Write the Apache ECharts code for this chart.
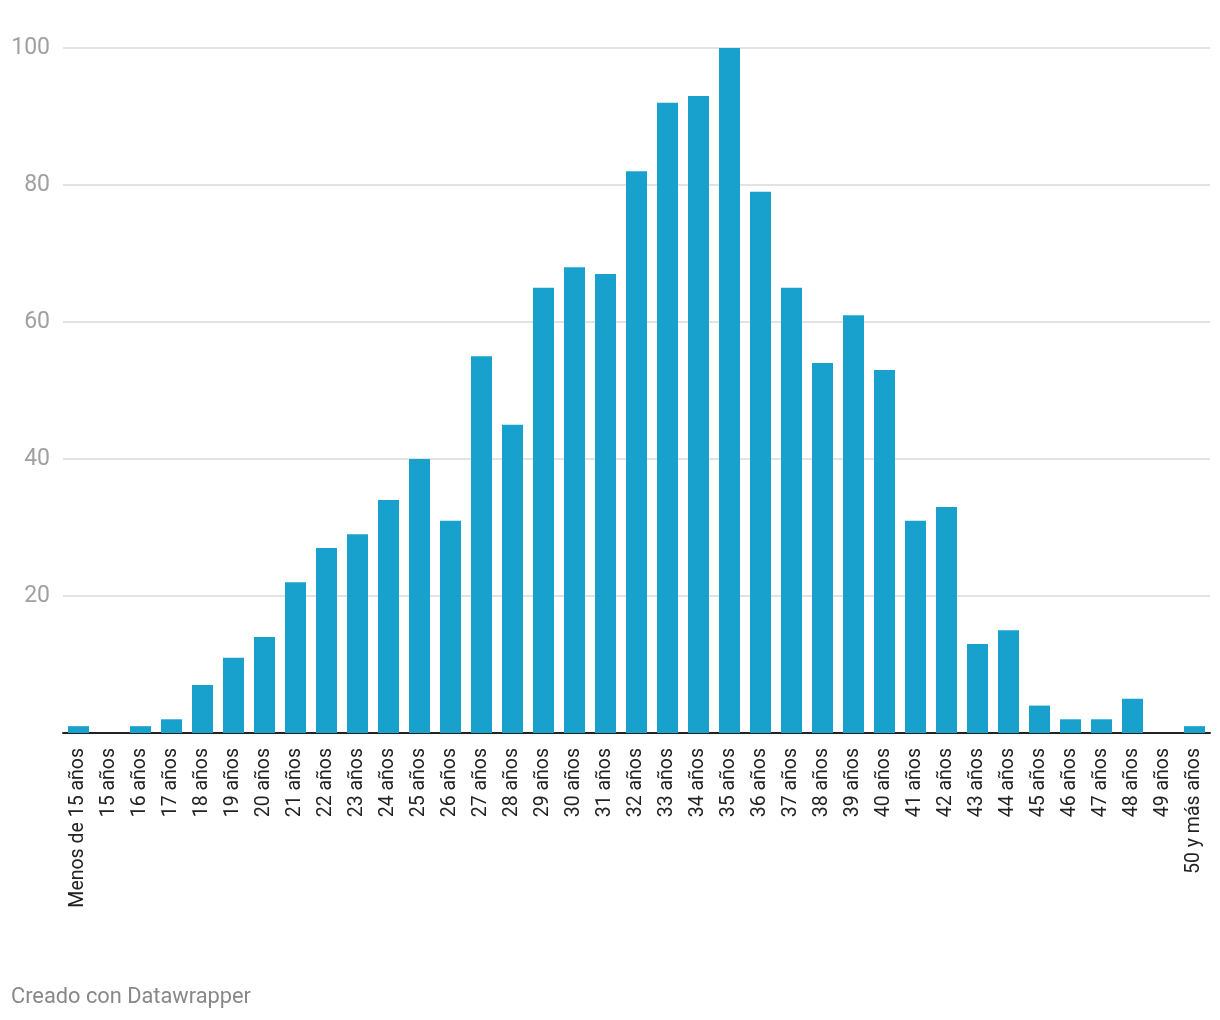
<!DOCTYPE html>
<html>
<head>
<meta charset="utf-8">
<script src="https://cdn.jsdelivr.net/npm/echarts@6/dist/echarts.min.js"></script>
<style>
html,body{margin:0;padding:0;background:#fff;}
#chart{width:1220px;height:1020px;}
</style>
</head>
<body>
<div id="chart"></div>
<script>
const categories = ["Menos de 15 años","15 años","16 años","17 años","18 años","19 años","20 años","21 años","22 años","23 años","24 años","25 años","26 años","27 años","28 años","29 años","30 años","31 años","32 años","33 años","34 años","35 años","36 años","37 años","38 años","39 años","40 años","41 años","42 años","43 años","44 años","45 años","46 años","47 años","48 años","49 años","50 y más años"];
const values = [1,0,1,2,7,11,14,22,27,29,34,40,31,55,45,65,68,67,82,92,93,100,79,65,54,61,53,31,33,13,15,4,2,2,5,0,1];
const yTicks = [0,20,40,60,80,100];
const credit = "Creado con Datawrapper";

const chart = echarts.init(document.getElementById('chart'), null, {renderer:'canvas'});
chart.setOption({
  animation:false,
  backgroundColor:'#ffffff',
  grid:{left:63,right:10,top:48,bottom:287,containLabel:false},
  graphic:[{
    type:'text', left:11, top:987,
    style:{text:credit, fill:'#888888', fontSize:21.8, fontFamily:'Roboto'}
  }],
  xAxis:{
    type:'category',
    data:categories,
    axisLine:{show:true,lineStyle:{color:'#222222',width:2}},
    axisTick:{show:false},
    axisLabel:{rotate:90,interval:0,color:'#222222',fontSize:19.5,margin:15,fontFamily:'Roboto'},
    splitLine:{show:false}
  },
  yAxis:{
    type:'value',
    min:yTicks[0], max:yTicks[yTicks.length-1], interval:20,
    axisLine:{show:false},
    axisTick:{show:false},
    axisLabel:{color:'#a0a0a0',fontSize:23,margin:13,fontFamily:'Roboto',
      formatter:function(v){return v===0?'':String(v);}},
    splitLine:{lineStyle:{color:'#e3e3e3',width:2}}
  },
  series:[{
    type:'bar',
    data:values,
    barWidth:21,
    itemStyle:{color:'#18a1cd'}
  }]
});
</script>
</body>
</html>
